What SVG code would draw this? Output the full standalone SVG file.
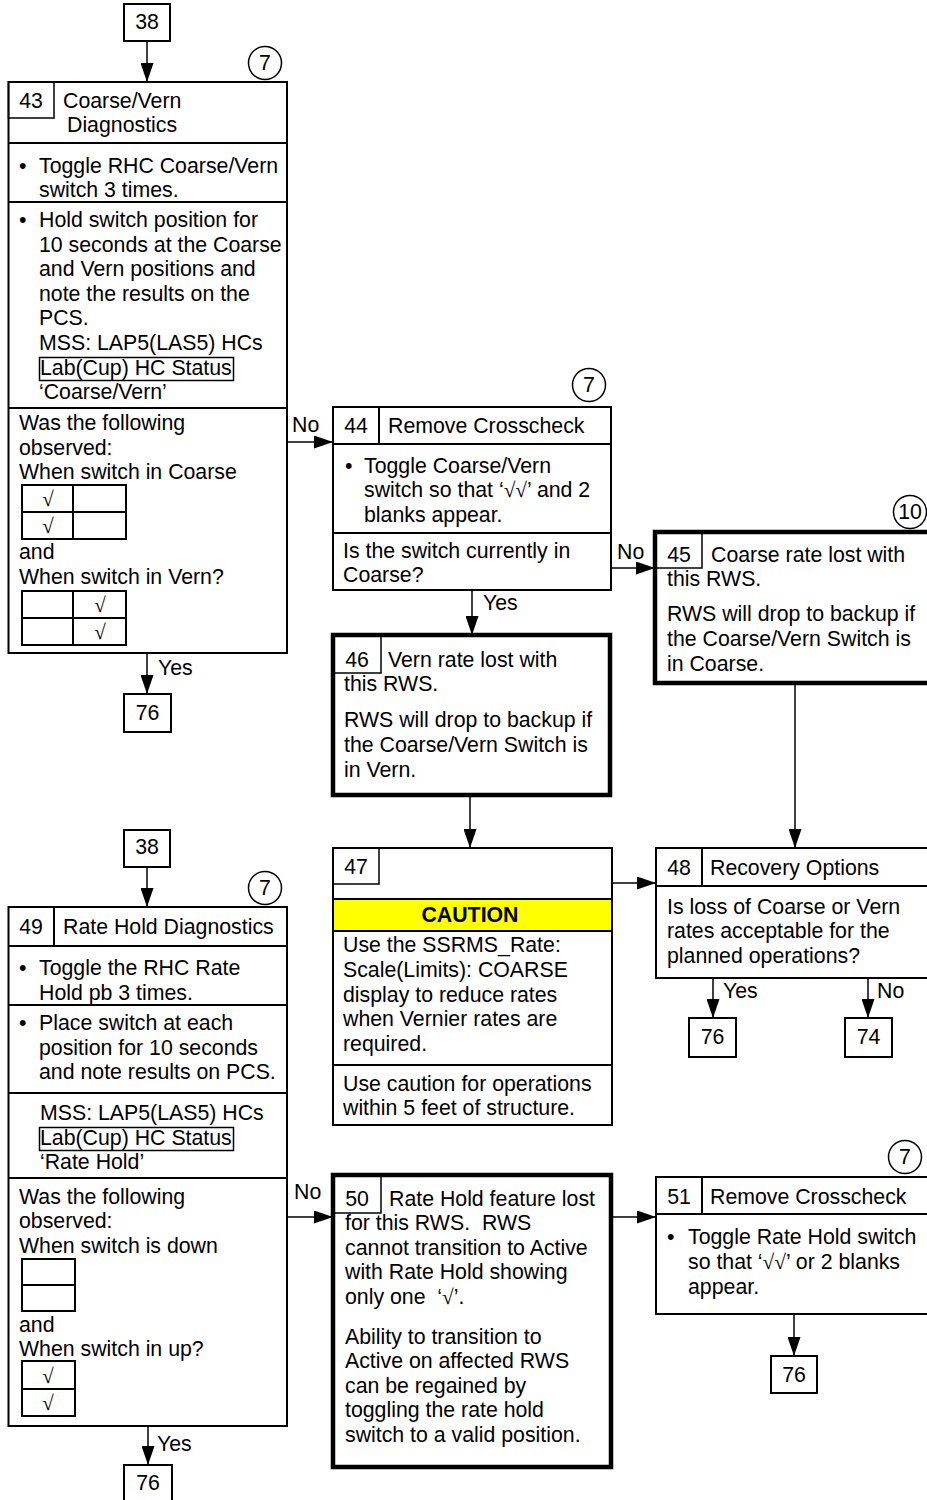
<svg xmlns="http://www.w3.org/2000/svg" width="927" height="1500" viewBox="0 0 927 1500">
<defs>
<marker id="a" markerUnits="userSpaceOnUse" markerWidth="19" markerHeight="13" refX="19" refY="6.5" orient="auto"><path d="M0,0 L19,6.5 L0,13 z" fill="#000"/></marker>
<style>
.t{font-family:"Liberation Sans",Arial,sans-serif;font-size:21.3px;fill:#000}
.m{text-anchor:middle}
.bo{font-weight:bold}
.s{font-family:"Liberation Serif","Times New Roman",serif}
.ck{font-family:"Liberation Serif","Times New Roman",serif;font-size:21px;text-anchor:middle;fill:#000}
.b{fill:#fff;stroke:#000;stroke-width:2}
.k{fill:#fff;stroke:#000;stroke-width:4.5}
.l{stroke:#000;stroke-width:2;fill:none}
.n{stroke:#000;stroke-width:1.5;fill:none}
.c{stroke:#000;stroke-width:1.5;fill:none;marker-end:url(#a)}
.o{fill:#fff;stroke:#000;stroke-width:1.5}
</style>
</defs>
<rect width="927" height="1500" fill="#fff"/>

<g id="connectors">
<path class="c" d="M147,41 V82"/>
<path class="c" d="M147,653 V694"/>
<path class="c" d="M287,442 H333"/>
<path class="c" d="M472,590 V635"/>
<path class="c" d="M611,568 H655"/>
<path class="c" d="M470,795 V848"/>
<path class="c" d="M795,683 V848"/>
<path class="c" d="M612,883 H656"/>
<path class="c" d="M713,978 V1018"/>
<path class="c" d="M868,978 V1018"/>
<path class="c" d="M147,867 V907"/>
<path class="c" d="M148,1426 V1465"/>
<path class="c" d="M287,1217 H333"/>
<path class="c" d="M611,1217 H656"/>
<path class="c" d="M794,1314 V1356"/>
<text class="t" x="292" y="432">No</text>
<text class="t" x="158" y="675">Yes</text>
<text class="t" x="483" y="610">Yes</text>
<text class="t" x="617" y="559">No</text>
<text class="t" x="723" y="998">Yes</text>
<text class="t" x="877" y="998">No</text>
<text class="t" x="294" y="1199">No</text>
<text class="t" x="157" y="1451">Yes</text>
</g>

<g id="n38a">
<rect class="b" x="124" y="4" width="46" height="37" stroke-width="1.5"/>
<text class="t m" x="147" y="29">38</text>
</g>

<g id="n43">
<circle class="o" cx="265" cy="63" r="16.5"/>
<text class="t m" x="265" y="70">7</text>
<rect class="b" x="8.5" y="82" width="278.5" height="571"/>
<rect class="n" x="8.5" y="82" width="45.5" height="36"/>
<text class="t m" x="31" y="108">43</text>
<text class="t" x="63" y="108">Coarse/Vern</text>
<text class="t" x="67" y="132">Diagnostics</text>
<path class="l" d="M8,143 H287 M8,202 H287 M8,408 H287"/>
<text class="t" x="19" y="173">•</text>
<text class="t" x="39" y="173">Toggle RHC Coarse/Vern</text>
<text class="t" x="39" y="197">switch 3 times.</text>
<text class="t" x="19" y="227">•</text>
<text class="t" x="39" y="227">Hold switch position for</text>
<text class="t" x="39" y="252">10 seconds at the Coarse</text>
<text class="t" x="39" y="276">and Vern positions and</text>
<text class="t" x="39" y="301">note the results on the</text>
<text class="t" x="39" y="325">PCS.</text>
<text class="t" x="39" y="350">MSS: LAP5(LAS5) HCs</text>
<rect class="n" x="39.5" y="357.5" width="194" height="23"/>
<text class="t" x="40" y="375">Lab(Cup) HC Status</text>
<text class="t" x="39" y="399">‘Coarse/Vern’</text>
<text class="t" x="19" y="430">Was the following</text>
<text class="t" x="19" y="455">observed:</text>
<text class="t" x="19" y="479">When switch in Coarse</text>
<rect class="l" x="22" y="485" width="104" height="54"/>
<path class="l" d="M22,512 H126 M73,485 V539"/>
<text class="ck" x="48" y="506">√</text>
<text class="ck" x="48" y="533">√</text>
<text class="t" x="19" y="559">and</text>
<text class="t" x="19" y="584">When switch in Vern?</text>
<rect class="l" x="22" y="591" width="104" height="54"/>
<path class="l" d="M22,618 H126 M73,591 V645"/>
<text class="ck" x="100" y="612">√</text>
<text class="ck" x="100" y="639">√</text>
</g>

<g id="n76a">
<rect class="b" x="124" y="694" width="47" height="38" stroke-width="1.5"/>
<text class="t m" x="147.5" y="720">76</text>
</g>

<g id="n44">
<circle class="o" cx="589" cy="385" r="16.5"/>
<text class="t m" x="589" y="392">7</text>
<rect class="b" x="333" y="407" width="278" height="183"/>
<path class="l" d="M333,444 H611 M379,407 V444 M333,533 H611"/>
<text class="t m" x="356" y="433">44</text>
<text class="t" x="388" y="433">Remove Crosscheck</text>
<text class="t" x="345" y="473">•</text>
<text class="t" x="364" y="473">Toggle Coarse/Vern</text>
<text class="t" x="364" y="497">switch so that ‘<tspan class="s">√√</tspan>’ and 2</text>
<text class="t" x="364" y="522">blanks appear.</text>
<text class="t" x="343" y="558">Is the switch currently in</text>
<text class="t" x="343" y="582">Coarse?</text>
</g>

<g id="n45">
<circle class="o" cx="910" cy="512" r="16.5"/>
<text class="t m" x="910" y="519">10</text>
<rect class="k" x="655" y="532" width="280" height="151"/>
<rect class="n" x="655" y="532" width="47" height="36"/>
<text class="t m" x="679" y="562">45</text>
<text class="t" x="711" y="562">Coarse rate lost with</text>
<text class="t" x="667" y="586">this RWS.</text>
<text class="t" x="667" y="621">RWS will drop to backup if</text>
<text class="t" x="667" y="646">the Coarse/Vern Switch is</text>
<text class="t" x="667" y="671">in Coarse.</text>
</g>

<g id="n46">
<rect class="k" x="333" y="635" width="277" height="160"/>
<rect class="n" x="333" y="635" width="48" height="38"/>
<text class="t m" x="357" y="667">46</text>
<text class="t" x="388" y="667">Vern rate lost with</text>
<text class="t" x="344" y="691">this RWS.</text>
<text class="t" x="344" y="727">RWS will drop to backup if</text>
<text class="t" x="344" y="752">the Coarse/Vern Switch is</text>
<text class="t" x="344" y="777">in Vern.</text>
</g>

<g id="n47">
<rect class="b" x="333" y="848" width="279" height="277"/>
<rect class="n" x="333" y="848" width="46" height="36"/>
<text class="t m" x="356" y="874">47</text>
<rect x="333" y="899" width="279" height="32" fill="#ffff00" stroke="#000" stroke-width="2"/>
<text class="t m bo" x="470" y="922">CAUTION</text>
<text class="t" x="343" y="952">Use the SSRMS_Rate:</text>
<text class="t" x="343" y="977">Scale(Limits): COARSE</text>
<text class="t" x="343" y="1002">display to reduce rates</text>
<text class="t" x="343" y="1026">when Vernier rates are</text>
<text class="t" x="343" y="1051">required.</text>
<path class="l" d="M333,1065 H612"/>
<text class="t" x="343" y="1091">Use caution for operations</text>
<text class="t" x="343" y="1115">within 5 feet of structure.</text>
</g>

<g id="n48">
<rect class="b" x="656" y="848" width="280" height="130"/>
<path class="l" d="M656,886 H936 M702,848 V886"/>
<text class="t m" x="679" y="875">48</text>
<text class="t" x="710" y="875">Recovery Options</text>
<text class="t" x="667" y="914">Is loss of Coarse or Vern</text>
<text class="t" x="667" y="938">rates acceptable for the</text>
<text class="t" x="667" y="963">planned operations?</text>
</g>

<g id="n76b">
<rect class="b" x="689" y="1018" width="47" height="39" stroke-width="1.5"/>
<text class="t m" x="712.5" y="1044">76</text>
</g>

<g id="n74">
<rect class="b" x="845" y="1018" width="47" height="39" stroke-width="1.5"/>
<text class="t m" x="868.5" y="1044">74</text>
</g>

<g id="n38b">
<rect class="b" x="124" y="830" width="46" height="37" stroke-width="1.5"/>
<text class="t m" x="147" y="854">38</text>
</g>

<g id="n49">
<circle class="o" cx="265" cy="888" r="16.5"/>
<text class="t m" x="265" y="895">7</text>
<rect class="b" x="8.5" y="907" width="278.5" height="519"/>
<path class="l" d="M8,946 H287 M54,907 V946 M8,1005 H287 M8,1093 H287 M8,1178 H287"/>
<text class="t m" x="31" y="934">49</text>
<text class="t" x="63" y="934">Rate Hold Diagnostics</text>
<text class="t" x="19" y="975">•</text>
<text class="t" x="39" y="975">Toggle the RHC Rate</text>
<text class="t" x="39" y="1000">Hold pb 3 times.</text>
<text class="t" x="19" y="1030">•</text>
<text class="t" x="39" y="1030">Place switch at each</text>
<text class="t" x="39" y="1055">position for 10 seconds</text>
<text class="t" x="39" y="1079">and note results on PCS.</text>
<text class="t" x="40" y="1120">MSS: LAP5(LAS5) HCs</text>
<rect class="n" x="39.5" y="1127.5" width="194" height="23"/>
<text class="t" x="40" y="1145">Lab(Cup) HC Status</text>
<text class="t" x="40" y="1169">‘Rate Hold’</text>
<text class="t" x="19" y="1204">Was the following</text>
<text class="t" x="19" y="1228">observed:</text>
<text class="t" x="19" y="1253">When switch is down</text>
<rect class="l" x="22" y="1259" width="53" height="52"/>
<path class="l" d="M22,1285 H75"/>
<text class="t" x="19" y="1332">and</text>
<text class="t" x="19" y="1356">When switch in up?</text>
<rect class="l" x="22" y="1361" width="53" height="55"/>
<path class="l" d="M22,1389 H75"/>
<text class="ck" x="48" y="1383">√</text>
<text class="ck" x="48" y="1410">√</text>
</g>

<g id="n76c">
<rect class="b" x="124" y="1465" width="48" height="40" stroke-width="1.5"/>
<text class="t m" x="148" y="1490">76</text>
</g>

<g id="n50">
<rect class="k" x="333" y="1175" width="278" height="292"/>
<rect class="n" x="333" y="1175" width="48" height="38"/>
<text class="t m" x="357" y="1206">50</text>
<text class="t" x="389" y="1206">Rate Hold feature lost</text>
<text class="t" x="345" y="1230" xml:space="preserve">for this RWS.  RWS</text>
<text class="t" x="345" y="1255">cannot transition to Active</text>
<text class="t" x="345" y="1279">with Rate Hold showing</text>
<text class="t" x="345" y="1304" xml:space="preserve">only one  ‘<tspan class="s">√</tspan>’.</text>
<text class="t" x="345" y="1344">Ability to transition to</text>
<text class="t" x="345" y="1368">Active on affected RWS</text>
<text class="t" x="345" y="1393">can be regained by</text>
<text class="t" x="345" y="1417">toggling the rate hold</text>
<text class="t" x="345" y="1442">switch to a valid position.</text>
</g>

<g id="n51">
<circle class="o" cx="905" cy="1157" r="16.5"/>
<text class="t m" x="905" y="1164">7</text>
<rect class="b" x="656" y="1177" width="280" height="137"/>
<path class="l" d="M656,1214 H936 M702,1177 V1214"/>
<text class="t m" x="679" y="1204">51</text>
<text class="t" x="710" y="1204">Remove Crosscheck</text>
<text class="t" x="667" y="1244">•</text>
<text class="t" x="688" y="1244">Toggle Rate Hold switch</text>
<text class="t" x="688" y="1269">so that ‘<tspan class="s">√√</tspan>’ or 2 blanks</text>
<text class="t" x="688" y="1294">appear.</text>
</g>

<g id="n76d">
<rect class="b" x="771" y="1356" width="46" height="37" stroke-width="1.5"/>
<text class="t m" x="794" y="1382">76</text>
</g>
</svg>
